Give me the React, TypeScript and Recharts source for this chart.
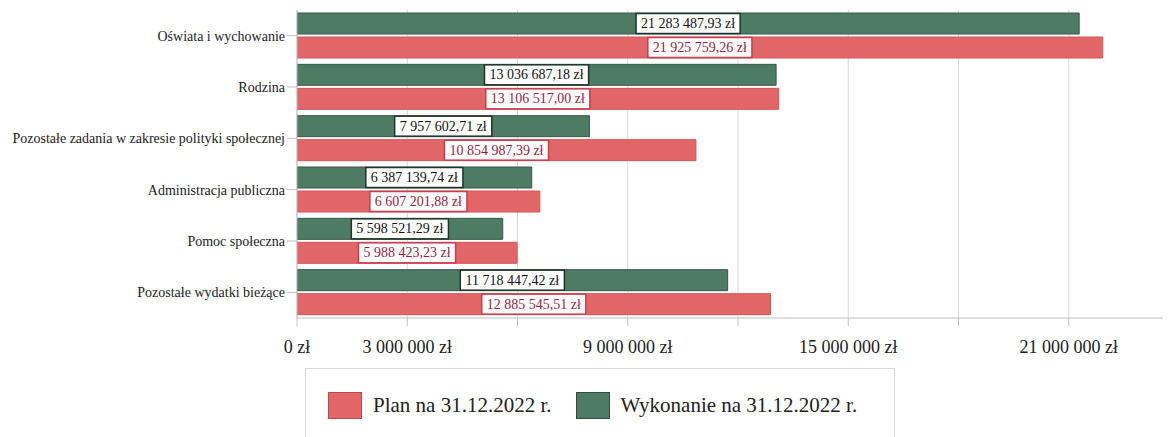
import React from 'react';
import { BarChart, Bar, XAxis, YAxis, CartesianGrid, LabelList, Legend } from 'recharts';

const categories = [
  'Oświata i wychowanie',
  'Rodzina',
  'Pozostałe zadania w zakresie polityki społecznej',
  'Administracja publiczna',
  'Pomoc społeczna',
  'Pozostałe wydatki bieżące',
];
const wykonanie = [21283487.93, 13036687.18, 7957602.71, 6387139.74, 5598521.29, 11718447.42];
const plan = [21925759.26, 13106517.0, 10854987.39, 6607201.88, 5988423.23, 12885545.51];
const xTicks = [0, 3000000, 6000000, 9000000, 12000000, 15000000, 18000000, 21000000, 24000000];
const shownTickLabels = [0, 3000000, 9000000, 15000000, 21000000];
const seriesNames = { plan: 'Plan na 31.12.2022 r.', wykonanie: 'Wykonanie na 31.12.2022 r.' };

const data = categories.map((name, i) => ({ name, wykonanie: wykonanie[i], plan: plan[i] }));

const FONT = "'Liberation Serif', 'Times New Roman', serif";
const GREEN = '#4e7b63';
const GREEN_STROKE = '#36594a';
const RED = '#e26668';
const RED_STROKE = '#d45558';

function groupInt(n: number): string {
  const s = String(n);
  const parts: string[] = [];
  for (let i = s.length; i > 0; i -= 3) parts.unshift(s.slice(Math.max(0, i - 3), i));
  return parts.join(' ');
}
function fmtMoney(v: number): string {
  const cents = Math.round(v * 100);
  const intPart = Math.floor(cents / 100);
  const dec = String(cents % 100).padStart(2, '0');
  return `${groupInt(intPart)},${dec} zł`;
}
function fmtTick(v: number): string {
  return `${groupInt(v)} zł`;
}
function textWidth(s: string, size: number): number {
  let w = 0;
  for (const ch of s) {
    if (/[0-9]/.test(ch)) w += 0.5;
    else if (ch === ' ' || ch === ',') w += 0.25;
    else if (ch === 'z') w += 0.444;
    else if (ch === 'ł') w += 0.278;
    else w += 0.5;
  }
  return w * size;
}

const makeLabel = (border: string, color: string) => (props: any) => {
  const { x, y, width, height, value } = props;
  const txt = fmtMoney(Number(value));
  const fs = 14;
  const w = textWidth(txt, fs) + 10;
  const h = 20;
  const cx = Number(x) + Number(width) / 2;
  const cy = Number(y) + Number(height) / 2;
  return (
    <g>
      <rect x={cx - w / 2} y={cy - h / 2} width={w} height={h} fill="#ffffff" stroke={border} strokeWidth={1.5} />
      <text x={cx} y={cy} textAnchor="middle" dominantBaseline="central" fontFamily={FONT} fontSize={fs} fill={color}>
        {txt}
      </text>
    </g>
  );
};

const XTick = (props: any) => {
  const { x, y, payload } = props;
  if (!shownTickLabels.includes(payload.value)) return null;
  return (
    <text x={x} y={y} dy="0.71em" textAnchor="middle" fontFamily={FONT} fontSize={18} fill="#222">
      {fmtTick(payload.value)}
    </text>
  );
};

const YTick = (props: any) => {
  const { x, y, payload } = props;
  return (
    <text x={x} y={y} dy="0.35em" textAnchor="end" fontFamily={FONT} fontSize={14} fill="#222">
      {payload.value}
    </text>
  );
};

const LegendContent = () => {
  const items = [
    { name: seriesNames.plan, fill: RED, stroke: '#b84a4c' },
    { name: seriesNames.wykonanie, fill: GREEN, stroke: '#2e4d3d' },
  ];
  return (
    <div
      style={{
        boxSizing: 'border-box',
        width: 590,
        height: 90,
        border: '1px solid #d9d9d9',
        display: 'flex',
        alignItems: 'flex-start',
        paddingLeft: 22,
        paddingTop: 23,
        fontFamily: FONT,
        fontSize: 21,
        color: '#222',
      }}
    >
      {items.map((it, i) => (
        <div key={it.name} style={{ display: 'flex', alignItems: 'center', marginRight: i === 0 ? 24 : 0 }}>
          <div style={{ width: 34, height: 27, background: it.fill, border: `1px solid ${it.stroke}`, boxSizing: 'border-box', marginRight: 11 }} />
          <span>{it.name}</span>
        </div>
      ))}
    </div>
  );
};

export default function App() {
  return (
    <div style={{ width: 1163, height: 429, overflow: 'hidden', position: 'relative' }}>
      <BarChart
        width={1171}
        height={429}
        data={data}
        layout="vertical"
        margin={{ top: 2, right: 0, bottom: 0, left: 0 }}
        barCategoryGap={3}
        barGap={3}
      >
        <CartesianGrid horizontal={false} vertical={true} stroke="#d9d9d9" />
        <XAxis
          type="number"
          domain={[0, 24000000]}
          ticks={xTicks}
          allowDataOverflow
          axisLine={{ stroke: '#bfbfbf' }}
          tickLine={{ stroke: '#bfbfbf' }}
          tickSize={8}
          tickMargin={14}
          height={119}
          tick={<XTick />}
          interval={0}
        />
        <YAxis
          type="category"
          dataKey="name"
          width={289}
          axisLine={{ stroke: '#bfbfbf' }}
          tickLine={{ stroke: '#bfbfbf' }}
          tickSize={10}
          tickMargin={2}
          tick={<YTick />}
          interval={0}
        />
        <Legend
          layout="vertical"
          align="center"
          verticalAlign="middle"
          wrapperStyle={{ top: 360, left: 297, width: 590, height: 90 }}
          content={<LegendContent />}
        />
        <Bar dataKey="wykonanie" name={seriesNames.wykonanie} fill={GREEN} stroke={GREEN_STROKE} strokeWidth={1} isAnimationActive={false}>
          <LabelList dataKey="wykonanie" content={makeLabel('#1e3529', '#111')} />
        </Bar>
        <Bar dataKey="plan" name={seriesNames.plan} fill={RED} stroke={RED_STROKE} strokeWidth={1} isAnimationActive={false}>
          <LabelList dataKey="plan" content={makeLabel('#cc3b4c', '#9c1c3c')} />
        </Bar>
      </BarChart>
    </div>
  );
}
